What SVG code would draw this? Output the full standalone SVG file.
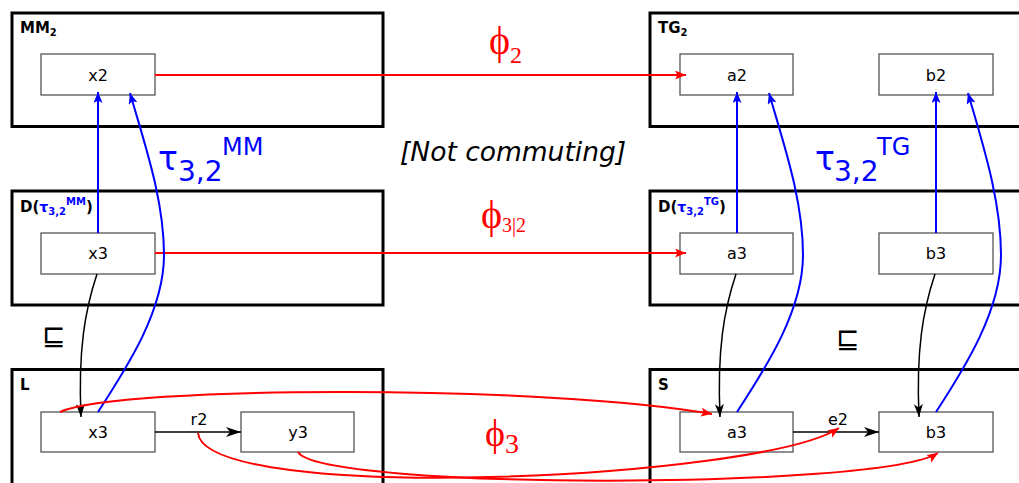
<svg xmlns="http://www.w3.org/2000/svg" width="1019" height="483" viewBox="0 0 1019 483">
<style>
.outer{fill:none;stroke:#000;stroke-width:3}
.node rect{fill:#fff;stroke:#555;stroke-width:1.3}
.node text{font-family:'DejaVu Sans',sans-serif;font-size:16px;text-anchor:middle;fill:#000}
.lbl{font-family:'DejaVu Sans',sans-serif;font-weight:bold;font-size:15px;fill:#000}
.red{stroke:#f00;stroke-width:2;fill:none}
.blue{stroke:#00f;stroke-width:2;fill:none}
.blk{stroke:#000;stroke-width:1.5;fill:none}
.phi{font-family:'Liberation Serif','DejaVu Serif',serif;fill:#f00}
.tau{font-family:'DejaVu Sans',sans-serif;fill:#00f}
.txt{font-family:'DejaVu Sans',sans-serif;fill:#000}
</style>
<defs>
<marker id="ar" markerUnits="userSpaceOnUse" markerWidth="12" markerHeight="10" refX="11" refY="4.5" orient="auto"><path d="M0,0 L11,4.5 L0,9 L2.5,4.5 z" fill="#f00"/></marker>
<marker id="ab" markerUnits="userSpaceOnUse" markerWidth="12" markerHeight="10" refX="11" refY="4.5" orient="auto"><path d="M0,0 L11,4.5 L0,9 L2.5,4.5 z" fill="#00f"/></marker>
<marker id="ak" markerUnits="userSpaceOnUse" markerWidth="16" markerHeight="10" refX="15" refY="5" orient="auto"><path d="M0,0 L15,5 L0,10 L4,5 z" fill="#000"/></marker>
<marker id="ak2" markerUnits="userSpaceOnUse" markerWidth="14" markerHeight="10" refX="13" refY="4.5" orient="auto"><path d="M0,0 L13,4.5 L0,9 L3.5,4.5 z" fill="#000"/></marker>
</defs>
<rect width="1019" height="483" fill="#fff"/>

<g id="MM2"><rect class="outer" x="12" y="13" width="371" height="113.5"/><text class="lbl" x="20" y="33">MM<tspan font-size="10" dy="3">2</tspan></text></g>
<g id="TG2"><rect class="outer" x="650" y="13" width="380" height="113.5"/><text class="lbl" x="658" y="33">TG<tspan font-size="10" dy="3">2</tspan></text></g>
<g id="DMM"><rect class="outer" x="12" y="191" width="371" height="114"/><text class="lbl" x="20" y="212">D(<tspan fill="#00f" font-size="14">τ</tspan><tspan fill="#00f" font-size="10" dy="3">3,2</tspan><tspan fill="#00f" font-size="10" dy="-10">MM</tspan><tspan dy="7">)</tspan></text></g>
<g id="DTG"><rect class="outer" x="650" y="191" width="380" height="114"/><text class="lbl" x="658" y="212">D(<tspan fill="#00f" font-size="14">τ</tspan><tspan fill="#00f" font-size="10" dy="3">3,2</tspan><tspan fill="#00f" font-size="10" dy="-10">TG</tspan><tspan dy="7">)</tspan></text></g>
<g id="L"><rect class="outer" x="12" y="369.5" width="371" height="130"/><text class="lbl" x="20" y="390">L</text></g>
<g id="S"><rect class="outer" x="650" y="369.5" width="380" height="130"/><text class="lbl" x="658" y="390">S</text></g>

<g id="x2" class="node"><rect x="41" y="54" width="114" height="41"/><text x="98" y="81">x2</text></g>
<g id="a2" class="node"><rect x="680" y="54" width="113" height="41"/><text x="737" y="81">a2</text></g>
<g id="b2" class="node"><rect x="879" y="54" width="114" height="41"/><text x="936" y="81">b2</text></g>
<g id="x3D" class="node"><rect x="41" y="233" width="114" height="41"/><text x="98" y="259">x3</text></g>
<g id="a3D" class="node"><rect x="680" y="233" width="113" height="41"/><text x="737" y="259">a3</text></g>
<g id="b3D" class="node"><rect x="879" y="233" width="114" height="41"/><text x="936" y="259">b3</text></g>
<g id="x3L" class="node"><rect x="41" y="412" width="114" height="40"/><text x="98" y="438">x3</text></g>
<g id="y3L" class="node"><rect x="241" y="412" width="113" height="40"/><text x="298" y="438">y3</text></g>
<g id="a3S" class="node"><rect x="680" y="412" width="113" height="40"/><text x="737" y="438">a3</text></g>
<g id="b3S" class="node"><rect x="879" y="412" width="114" height="40"/><text x="936" y="438">b3</text></g>

<g id="connectors">
<path class="red" d="M155,75 L686,75" marker-end="url(#ar)"/>
<path class="red" d="M155,253 L686,253" marker-end="url(#ar)"/>
<path class="blue" d="M98,233 L98,92" marker-end="url(#ab)"/>
<path class="blue" d="M737,233 L737,92" marker-end="url(#ab)"/>
<path class="blue" d="M936,233 L936,92" marker-end="url(#ab)"/>
<path class="blue" d="M98,412 C128,366 164,310 164,255 C164,200 145,145 130,93" marker-end="url(#ab)"/>
<path class="blue" d="M737,412 C767,366 803,310 803,255 C803,200 784,145 769,93" marker-end="url(#ab)"/>
<path class="blue" d="M936,412 C966,366 1001,310 1001,255 C1001,200 983,145 968,93" marker-end="url(#ab)"/>
<path class="blk" d="M97,274 C85,310 78,350 81,417" marker-end="url(#ak2)"/>
<path class="blk" d="M736,274 C724,310 717,350 720,417" marker-end="url(#ak2)"/>
<path class="blk" d="M935,274 C923,310 916,350 919,417" marker-end="url(#ak2)"/>
<path class="blk" d="M155,432 L241,432" marker-end="url(#ak)"/>
<path class="blk" d="M793,432 L879,432" marker-end="url(#ak)"/>
<path class="red" d="M60,412 C120,385 550,385 712,414" marker-end="url(#ar)"/>
<path class="red" d="M198,433 C205,505 760,480 839,428" marker-end="url(#ar)"/>
<path class="red" d="M298,452 C320,490 880,490 938,453" marker-end="url(#ar)"/>
<text class="txt" x="199" y="425" font-size="16" text-anchor="middle">r2</text>
<text class="txt" x="838" y="425" font-size="16" text-anchor="middle">e2</text>
</g>

<text class="phi" x="489" y="54" font-size="40">ϕ<tspan font-size="24" dy="9">2</tspan></text>
<text class="phi" x="481" y="228" font-size="40">ϕ<tspan font-size="20" dy="4">3|2</tspan></text>
<text class="phi" x="485" y="446" font-size="38">ϕ<tspan font-size="28" dy="7">3</tspan></text>

<text class="tau" x="158" y="170" font-size="33">τ</text><text class="tau" x="178" y="181" font-size="28">3,2</text><text class="tau" x="222" y="155" font-size="24">MM</text>
<text class="tau" x="815" y="170" font-size="33">τ</text><text class="tau" x="834" y="181" font-size="28">3,2</text><text class="tau" x="877" y="155" font-size="24">TG</text>

<text class="txt" x="400" y="161" font-size="26.5" font-style="italic">[Not commuting]</text>
<text class="txt" x="42" y="345" font-size="28">⊑</text>
<text class="txt" x="836" y="348" font-size="28">⊑</text>
</svg>
